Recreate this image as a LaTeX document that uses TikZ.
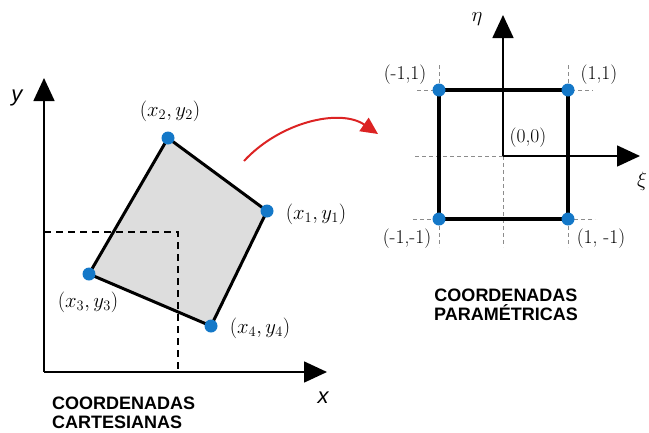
\documentclass[tikz,border=0pt]{standalone}
\usepackage{fontspec}
\newfontfamily\capfont{Liberation Sans}
\usetikzlibrary{arrows.meta}
\definecolor{dotblue}{RGB}{20,120,200}
\definecolor{quadgray}{RGB}{221,221,221}
\definecolor{arrred}{RGB}{220,35,35}
\definecolor{guidegray}{RGB}{140,140,140}
\begin{document}
\begin{tikzpicture}[x=1pt,y=-1pt,
 axis/.style={line width=1.6pt, -{Triangle[length=23pt,width=21pt]}},
 edge/.style={line width=3pt, line join=round},
 sqedge/.style={line width=3.3pt, line join=miter},
 guide/.style={line width=1.4pt, dash pattern=on 7pt off 5pt},
 thinguide/.style={line width=0.7pt, guidegray, dash pattern=on 4pt off 3pt},
 dot/.style={circle, fill=dotblue, minimum size=13pt, inner sep=0pt},
 lbl/.style={inner sep=0pt, font=\fontsize{19.5}{21}\selectfont},
 captext/.style={inner sep=0pt, font=\capfont\bfseries\fontsize{18}{19}\selectfont},
 axlbl/.style={inner sep=0pt, font=\capfont\itshape\fontsize{22}{24}\selectfont}]

\useasboundingbox (0,0) rectangle (649,432);

% ---------- left: cartesian ----------
\coordinate (O) at (44,372);
\coordinate (Ytip) at (44,78);
\coordinate (Xtip) at (327,372);
\coordinate (P1) at (267,211);
\coordinate (P2) at (168,138);
\coordinate (P3) at (89,274);
\coordinate (P4) at (211,326);
\coordinate (Gl) at (44,232);
\coordinate (Gc) at (178,232);
\coordinate (Gb) at (178,372);

\fill[quadgray] (P1) -- (P2) -- (P3) -- (P4) -- cycle;
\draw[guide] (Gl) -- (Gc) -- (Gb);
\draw[edge] (P1) -- (P2) -- (P3) -- (P4) -- cycle;
\draw[axis] (O) -- (Ytip);
\draw[axis] (O) -- (Xtip);

\node[dot] (d1) at (P1) {};
\node[dot] (d2) at (P2) {};
\node[dot] (d3) at (P3) {};
\node[dot] (d4) at (P4) {};

\node[lbl] (l2) at (170,111) {$(x_2, y_2)$};
\node[lbl] (l1) at (316,214) {$(x_1, y_1)$};
\node[lbl] (l3) at (88,302) {$(x_3, y_3)$};
\node[lbl] (l4) at (260,328) {$(x_4, y_4)$};
\node[axlbl] (ylab) at (17,98) {y};
\node[axlbl] (xlab) at (323,398) {x};

\node[captext, anchor=base west, align=left] (capl) at (52,428) {COORDENADAS\\CARTESIANAS};

% ---------- red arrow ----------
\coordinate (Rs) at (244,161);
\coordinate (Re) at (378,134);
\draw[line width=2pt, arrred, -{Triangle[length=17pt,width=16pt]}] (Rs) .. controls (280,122) and (340,108) .. (Re);

% ---------- right: parametric ----------
\coordinate (C) at (503,156);
\coordinate (A) at (439,90);
\coordinate (B) at (568,90);
\coordinate (D) at (439,219);
\coordinate (E) at (568,219);
\coordinate (Etatip) at (503,15);
\coordinate (Xitip) at (640,156);

\coordinate (ht1) at (417,90);   \coordinate (ht2) at (593,90);
\coordinate (hb1) at (413,219);  \coordinate (hb2) at (595,219);
\coordinate (vl1) at (439,65);   \coordinate (vl2) at (439,247);
\coordinate (vr1) at (568,65);   \coordinate (vr2) at (568,247);
\coordinate (vc2) at (503,247);
\coordinate (hc1) at (415,156);

\draw[thinguide] (ht1) -- (ht2);
\draw[thinguide] (hb1) -- (hb2);
\draw[thinguide] (vl1) -- (vl2);
\draw[thinguide] (vr1) -- (vr2);
\draw[thinguide] (C) -- (vc2);
\draw[thinguide] (hc1) -- (C);

\draw[sqedge] (A) -- (B) -- (E) -- (D) -- cycle;
\draw[axis] (C) -- (Etatip);
\draw[axis] (C) -- (Xitip);

\node[dot] (qa) at (A) {};
\node[dot] (qb) at (B) {};
\node[dot] (qd) at (D) {};
\node[dot] (qe) at (E) {};

\node[lbl] (la) at (405,75) {(-1,1)};
\node[lbl] (lb) at (599,75) {(1,1)};
\node[lbl] (lc) at (528,138) {(0,0)};
\node[lbl] (ld) at (407,239) {(-1,-1)};
\node[lbl] (le) at (601,239) {(1, -1)};
\node[lbl] (eta) at (477,19) {$\eta$};
\node[lbl] (xi) at (642,181) {$\xi$};

\node[captext, anchor=base, align=center] (capr) at (506,320) {COORDENADAS\\PARAMÉTRICAS};
\end{tikzpicture}
\end{document}
